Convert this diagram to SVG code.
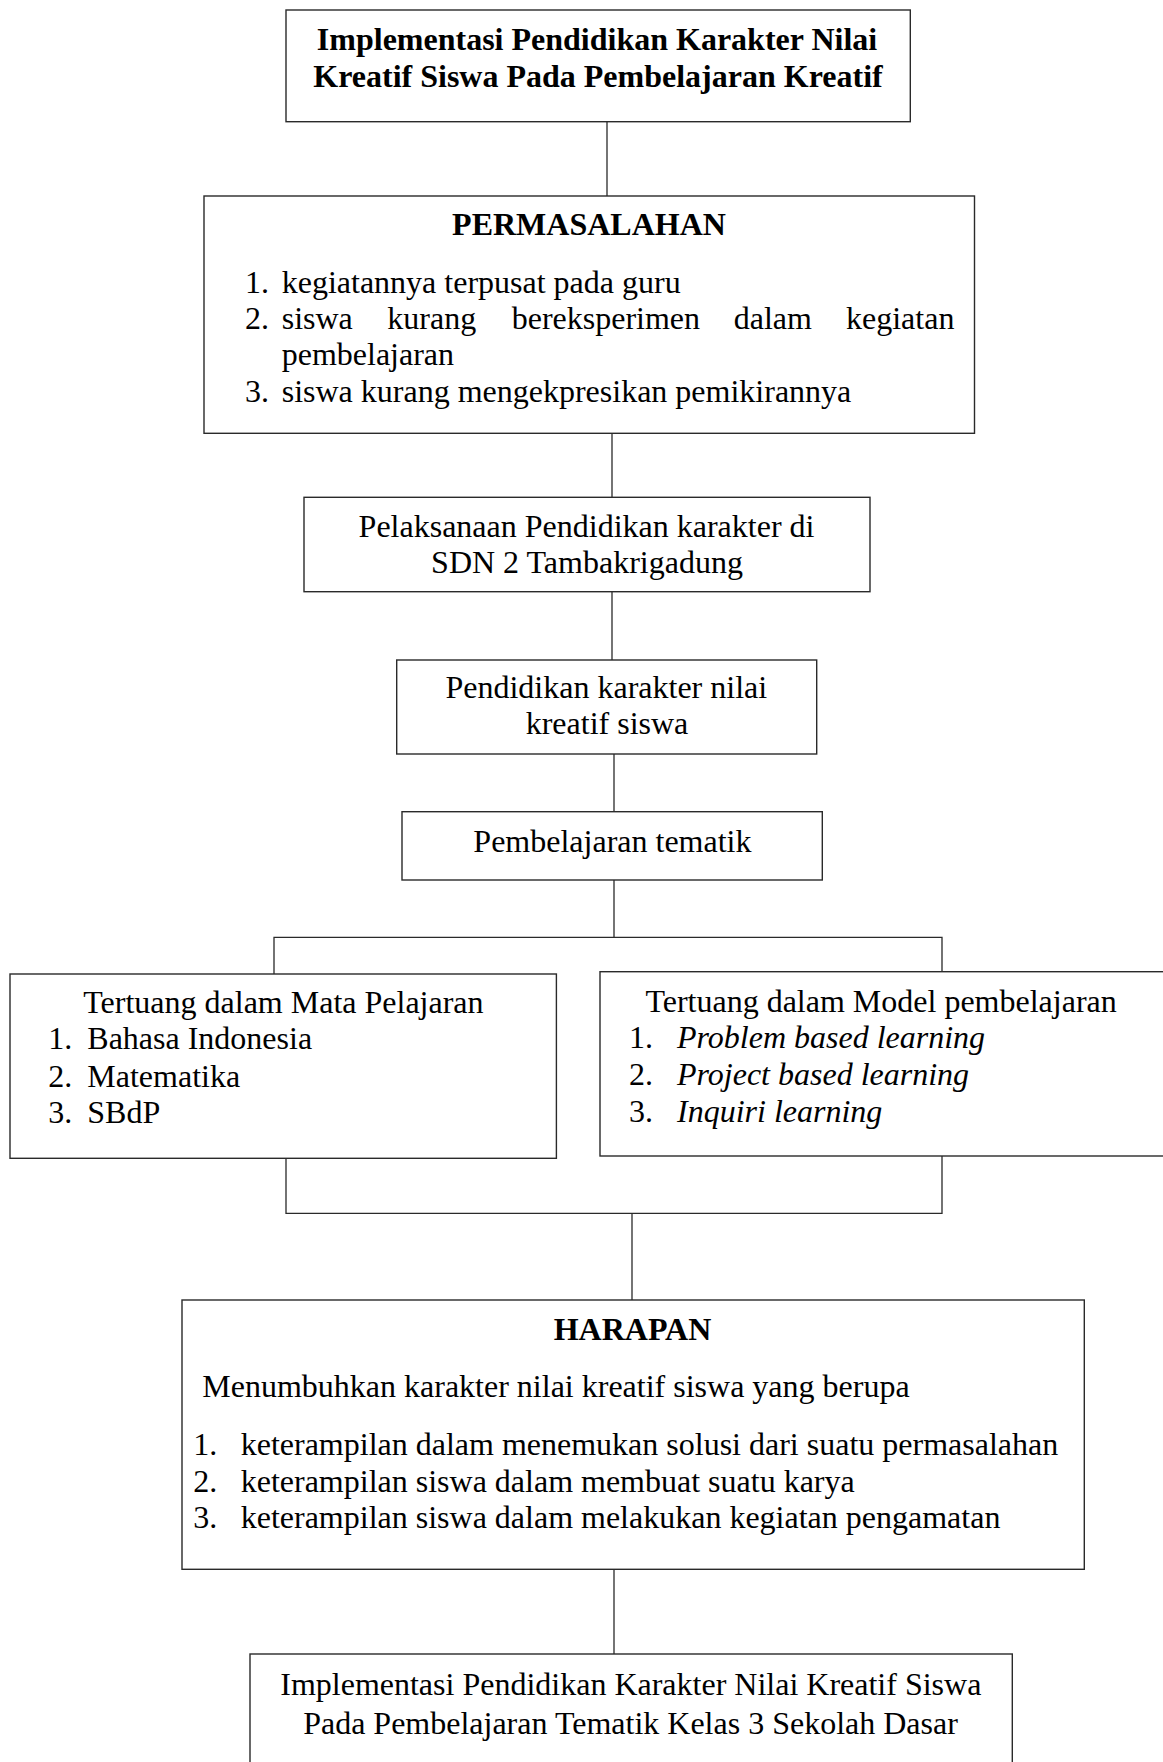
<svg xmlns="http://www.w3.org/2000/svg" width="1163" height="1762" viewBox="0 0 1163 1762">
<style>
  .box { fill: #ffffff; stroke: #2a2a2a; stroke-width: 1.4; }
  .conn { fill: none; stroke: #2a2a2a; stroke-width: 1.3; }
  text { font-family: "Liberation Serif", "Times New Roman", serif; font-size: 32px; fill: #000000; }
  .b { font-weight: bold; }
  .c { text-anchor: middle; }
  .i { font-style: italic; }
</style>
<rect x="0" y="0" width="1163" height="1762" fill="#ffffff"/>

<g id="connectors">
  <path class="conn" d="M607 121 V196"/>
  <path class="conn" d="M612 423 V497.3"/>
  <path class="conn" d="M612 591.7 V660"/>
  <path class="conn" d="M614 754 V811.7"/>
  <path class="conn" d="M614 880 V937.3"/>
  <path class="conn" d="M274 974 V937.3 H942 V971.7"/>
  <path class="conn" d="M286 1158.3 V1213.3 H942 V1156"/>
  <path class="conn" d="M632 1213.3 V1300"/>
  <path class="conn" d="M614 1569.3 V1654"/>
</g>

<g id="node-judul">
  <rect class="box" x="286" y="10" width="624.3" height="111.7"/>
  <text class="b c" x="597" y="50">Implementasi Pendidikan Karakter Nilai</text>
  <text class="b c" x="598" y="87.3">Kreatif Siswa Pada Pembelajaran Kreatif</text>
</g>

<g id="node-permasalahan">
  <rect class="box" x="204" y="196" width="770.5" height="237.3"/>
  <text class="b c" x="589" y="235">PERMASALAHAN</text>
  <text x="245" y="292.7">1.</text>
  <text x="281.7" y="292.7">kegiatannya terpusat pada guru</text>
  <text x="245" y="329.3">2.</text>
  <text y="329.3"><tspan x="281.7">siswa</tspan><tspan x="387.3">kurang</tspan><tspan x="511.7">bereksperimen</tspan><tspan x="733.7">dalam</tspan><tspan x="846">kegiatan</tspan></text>
  <text x="281.7" y="365">pembelajaran</text>
  <text x="245" y="401.7">3.</text>
  <text x="281.7" y="401.7">siswa kurang mengekpresikan pemikirannya</text>
</g>

<g id="node-pelaksanaan">
  <rect class="box" x="304" y="497.3" width="566" height="94.4"/>
  <text class="c" x="586.5" y="536.7">Pelaksanaan Pendidikan karakter di</text>
  <text class="c" x="587" y="573.3">SDN 2 Tambakrigadung</text>
</g>

<g id="node-pendidikan-karakter">
  <rect class="box" x="396.7" y="660" width="420" height="94"/>
  <text class="c" x="606.3" y="698.3">Pendidikan karakter nilai</text>
  <text class="c" x="607" y="734.3">kreatif siswa</text>
</g>

<g id="node-tematik">
  <rect class="box" x="402" y="811.7" width="420.3" height="68.3"/>
  <text class="c" x="612.4" y="851.7">Pembelajaran tematik</text>
</g>

<g id="node-mata-pelajaran">
  <rect class="box" x="10" y="974" width="546.4" height="184.3"/>
  <text x="83.3" y="1013.3">Tertuang dalam Mata Pelajaran</text>
  <text x="48.3" y="1049.3">1.</text>
  <text x="87.3" y="1049.3">Bahasa Indonesia</text>
  <text x="48.3" y="1086.7">2.</text>
  <text x="87.3" y="1086.7">Matematika</text>
  <text x="48.3" y="1122.7">3.</text>
  <text x="87.3" y="1122.7">SBdP</text>
</g>

<g id="node-model-pembelajaran">
  <rect class="box" x="600" y="971.7" width="580" height="184.3"/>
  <text x="645.4" y="1011.7">Tertuang dalam Model pembelajaran</text>
  <text x="629" y="1047.7">1.</text>
  <text class="i" x="677" y="1047.7">Problem based learning</text>
  <text x="629" y="1085">2.</text>
  <text class="i" x="677" y="1085">Project based learning</text>
  <text x="629" y="1121.7">3.</text>
  <text class="i" x="677" y="1121.7">Inquiri learning</text>
</g>

<g id="node-harapan">
  <rect class="box" x="182" y="1300" width="902.3" height="269.3"/>
  <text class="b c" x="632.5" y="1340">HARAPAN</text>
  <text x="202.3" y="1397.3">Menumbuhkan karakter nilai kreatif siswa yang berupa</text>
  <text x="193.3" y="1455">1.</text>
  <text x="240.7" y="1455">keterampilan dalam menemukan solusi dari suatu permasalahan</text>
  <text x="193.3" y="1491.7">2.</text>
  <text x="240.7" y="1491.7">keterampilan siswa dalam membuat suatu karya</text>
  <text x="193.3" y="1528.3">3.</text>
  <text x="240.7" y="1528.3">keterampilan siswa dalam melakukan kegiatan pengamatan</text>
</g>

<g id="node-implementasi-akhir">
  <rect class="box" x="250" y="1654" width="762.3" height="130"/>
  <text class="c" x="630.8" y="1695">Implementasi Pendidikan Karakter Nilai Kreatif Siswa</text>
  <text class="c" x="630.5" y="1734">Pada Pembelajaran Tematik Kelas 3 Sekolah Dasar</text>
</g>
</svg>
